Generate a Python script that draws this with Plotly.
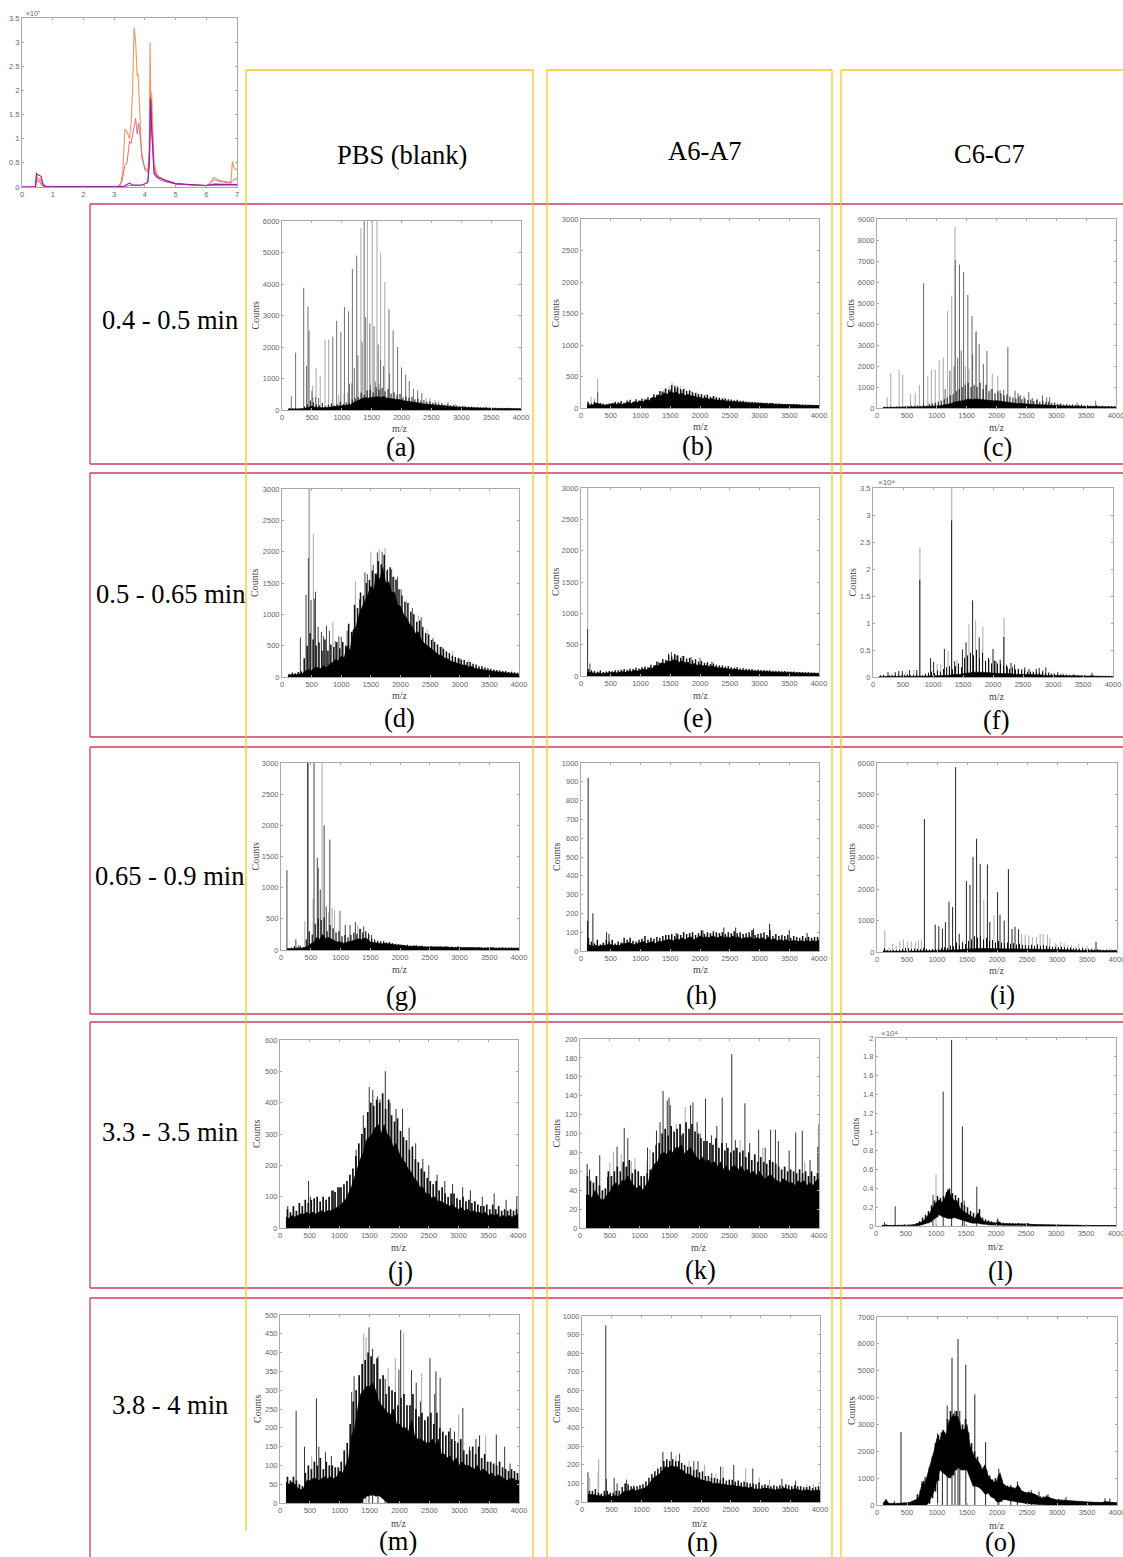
import plotly.graph_objects as go

W, H = 1123, 1557

# ---------- data ----------
MZ_GRID = [100,150,200,250,300,350,400,450,500,550,
           600,650,700,750,800,850,900,950,1000,1050,
           1100,1150,1200,1250,1300,1350,1400,1450,1500,1550,
           1600,1650,1700,1750,1800,1850,1900,1950,2000,2050,
           2100,2150,2200,2250,2300,2350,2400,2450,2500,2550,
           2600,2650,2700,2750,2800,2850,2900,2950,3000,3050,
           3100,3150,3200,3250,3300,3350,3400,3450,3500,3550,
           3600,3650,3700,3750,3800,3850,3900,3950,4000]
FUZZ_GRID = [125,175,225,275,325,375,425,475,525,575,
             625,675,725,775,825,875,925,975,1025,1075,
             1125,1175,1225,1275,1325,1375,1425,1475,1525,1575,
             1625,1675,1725,1775,1825,1875,1925,1975,2025,2075,
             2125,2175,2225,2275,2325,2375,2425,2475,2525,2575,
             2625,2675,2725,2775,2825,2875,2925,2975,3025,3075,
             3125,3175,3225,3275,3325,3375,3425,3475,3525,3575,
             3625,3675,3725,3775,3825,3875,3925,3975]

a_core = [30,30,35,30,40,40,60,90,120,90, 80,70,75,80,90,90,100,110,120,130,
          140,170,240,290,330,370,390,380,400,410, 420,400,430,380,370,350,350,320,320,290,
          280,270,240,230,220,200,190,180,170,150, 140,130,130,110,110,100,100,90,85,80,
          80,75,70,65,65,60,60,60,55,50, 50,50,45,45,45,40,45,40,40]
a_fuzz = [60,50,70,40,60,120,180,300,240,180, 150,220,130,170,210,150,180,260,190,240,
          230,330,380,420,550,480,620,640,560,720, 640,700,590,660,520,560,480,510,400,430,
          390,420,340,360,300,310,260,280,230,240, 200,220,170,190,150,160,140,130,120,115,
          105,110,90,95,85,80,85,75,70,72, 65,70,60,58,62,55,52,50]
a_dark = {155:440,228:1820,363:3880,410:1400,435:3280,500:600,515:400,850:2330,915:2830,985:2480,1045:3270,1115:3130,
          1170:850,1178:4480,1250:4900,1375:6000,1400:2940,1470:2750,1540:2660,1610:2080,1340:2170,1270:1740,1210:1340,
          1130:820,1650:1600,1700:1400,1790:3200,1800:1150,1860:2530,1935:2000,2000:1350,2070:1120,2130:920,
          1480:800,1560:900,1620:830,2200:680,2270:620,2340:540,560:420,610:380}
a_pale = {460:2530,445:2500,570:1340,640:1080,510:760,720:2240,780:2240,1320:5780,1430:6000,1510:6000,1590:6000,
          1650:5000,1720:4060,1100:550,1040:520,950:480,2410:400,2480:380,2560:320,2620:300,2780:260,2900:210,3050:160,3400:120,3800:90}

b_core = [40,40,50,80,60,50,45,50,55,70, 60,70,60,80,90,70,100,90,110,100,
          130,120,170,160,210,190,240,220,260,240, 250,220,230,200,220,190,190,170,170,150,
          160,140,150,130,130,120,120,110,110,100, 100,95,95,85,85,80,80,75,75,70,
          70,65,70,60,60,55,55,55,50,50, 50,50,45,45,45,40,40,40,40]
b_fuzz = [90,70,100,60,80,70,60,70,80,100, 90,110,85,120,130,100,140,120,150,140,
          170,160,220,210,270,260,310,290,360,340, 330,300,300,270,280,250,240,220,220,200,
          210,180,190,170,165,150,150,140,135,125, 130,115,115,105,100,100,95,92,88,85,
          82,80,78,72,70,68,65,62,60,60, 60,55,55,52,50,50,48,48]
b_dark = {110:100,280:250,1350:260,1500:300,1600:310,1700:280}
b_pale = {280:460,230:150,170:180,1400:300,1480:350,1530:400,1580:370,1620:360,1670:340,1730:320,1850:280,1950:260,2100:220,2250:190,2400:170}

c_core = [25,25,30,30,30,30,30,30,40,40, 40,40,50,60,70,70,80,90,100,110,
          130,150,190,220,280,300,340,360,400,420, 400,430,420,400,380,370,360,340,350,330,
          300,290,270,250,220,210,220,200,190,180, 170,170,160,150,150,140,130,120,120,110,
          110,100,100,90,85,90,80,80,70,70, 70,80,70,60,60,60,60,55,50]
c_fuzz = [60,50,70,50,70,60,80,90,100,110, 110,120,100,150,110,200,220,250,300,350,
          420,500,600,650,800,900,1000,1100,1200,1000, 1100,1000,1200,900,1100,800,900,700,800,700,
          600,650,550,500,450,550,420,450,380,400, 330,380,300,340,270,300,240,260,200,220,
          170,190,160,170,150,140,160,120,130,120, 110,130,100,110,90,100,90,85]
c_dark = {780:5950,1310:7050,1380:6830,1450:6480,1520:5380,1590:4380,1660:3640,1710:3050,1840:2720,2190:2900,
          1350:2400,1410:2730,1290:2000,1220:1780,1140:900,1600:2570,1780:2100,2060:850,2120:870,2310:820,
          2360:700,2400:600,2460:550,2540:760,2600:480,2680:450,2770:600,2840:500,2890:520,3350:250,3660:350}
c_pale = {1305:8620,1250:5350,1180:4620,1110:2400,1040:2260,975:1830,910:1820,850:1520,710:1100,640:730,560:680,
          430:1580,370:1820,230:1660,170:500,1480:2000,1540:1870,1650:3600,1930:1620,2020:1530,1900:900,3050:180}

d_core = [30,30,40,40,50,60,100,120,100,150, 150,130,180,150,200,230,280,260,330,310,
          500,420,750,800,1000,1100,1200,1320,1450,1400, 1650,1550,1750,1500,1520,1350,1350,1150,1130,1000,
          950,850,800,700,720,600,540,500,460,420, 380,350,340,300,290,250,240,220,210,190,
          190,160,170,140,130,125,115,105,100,90, 85,80,70,70,60,60,55,50,45]
d_fuzz = [50,70,60,80,90,300,500,700,600,500, 550,420,600,420,520,480,560,460,560,500,
          850,720,1150,1100,1350,1300,1500,1550,1700,1650, 1850,1800,1950,1700,1750,1600,1550,1400,1300,1200,
          1180,1040,1000,880,900,800,700,680,590,560, 520,480,450,410,380,340,320,300,280,270,
          240,240,210,200,170,170,150,140,130,120, 110,105,95,95,80,85,75,70]
d_dark = {310:630,405:1310,445:1900,490:1230,545:1250,565:1360,610:800,665:720,700:650,750:820,800:740,900:570,960:650,
          1000:640,1100:740,1310:1240,1400:1670,1440:1640,1540:1790,1610:1990,1690:2000,1780:1720,1850:1720,
          1950:1600,2010:1400,2200:1100,2350:950,2550:620,2700:480,3000:300}
d_pale = {455:3000,465:3000,530:2280,860:880,1240:1530,1500:2000,1640:2040,1740:2060,1900:1600,2100:1220,2300:980,2450:760,2880:410,3150:280}

e_core = [60,60,50,40,50,40,45,50,45,60, 50,60,70,60,80,70,90,80,100,110,
          100,130,120,170,160,210,200,240,230,260, 250,220,240,210,220,180,200,170,180,160,
          170,150,160,140,130,130,120,120,110,105, 110,95,95,90,85,85,80,80,75,75,
          70,70,65,65,60,60,60,55,55,55, 50,50,50,45,45,45,40,40,40]
e_fuzz = [110,90,80,70,90,65,70,80,75,90, 90,100,110,100,120,110,130,120,140,150,
          140,180,170,230,210,270,260,330,310,350, 330,290,320,280,290,250,270,230,240,210,
          220,190,200,180,170,170,150,160,140,130, 140,120,125,115,110,110,100,105,95,95,
          90,90,85,85,80,75,80,70,70,72, 65,65,65,60,60,55,55,52]
e_dark = {110:750,150:200,1300:220,1470:360,1520:380,1600:330,1700:320,1850:300,2000:290,2200:230}
e_pale = {112:3000}

f_core = [.005,.005,.01,.01,.01,.01,.01,.01,.01,.01, .01,.01,.01,.01,.01,.01,.015,.02,.02,.02,
          .025,.03,.03,.03,.04,.04,.04,.05,.06,.07, .08,.08,.09,.09,.09,.08,.08,.08,.07,.07,
          .07,.06,.06,.06,.06,.05,.05,.05,.05,.04, .04,.04,.04,.04,.04,.03,.03,.03,.03,.03,
          .03,.02,.02,.02,.02,.02,.02,.02,.02,.015, .02,.02,.015,.015,.01,.01,.01,.01,.01]
f_fuzz = [.03,.04,.02,.03,.03,.04,.05,.03,.04,.05, .03,.04,.05,.03,.03,.06,.08,.1,.07,.12,
          .1,.15,.18,.2,.14,.2,.25,.18,.35,.4, .45,.4,.5,.35,.45,.3,.35,.25,.3,.25,
          .25,.2,.22,.15,.18,.14,.15,.12,.13,.1, .1,.09,.1,.08,.09,.07,.08,.06,.06,.05,
          .05,.05,.04,.04,.03,.03,.03,.03,.03,.02, .03,.03,.02,.02,.02,.02,.02,.015]
f_dark = {250:.09,370:.09,430:.11,490:.11,610:.13,730:.13,780:1.8,960:.35,1010:.28,1190:.52,1310:2.9,1360:.29,1490:.51,
          1550:.64,1660:1.42,1770:.73,2000:.52,2050:.3,2120:.32,2180:.74,2240:.19,2300:.26,2360:.23,2420:.15,2480:.15,
          2530:.18,2600:.15,2720:.15,2770:.17,2830:.12,2880:.18,3080:.09,3350:.05,3650:.08}
f_pale = {120:.03,310:.06,550:.1,680:.13,782:2.4,1070:.24,1130:.24,1250:.49,1312:3.5,1400:.32,1600:.97,1710:1.05,1830:.93,
          1880:.26,1940:.32,2185:1.1,2660:.11,2950:.1,3000:.08,3150:.07,3220:.06,3420:.045,3550:.04,3800:.02}

g_core = [20,20,25,30,25,30,40,60,100,120, 200,170,250,180,200,170,150,130,130,110,
          120,130,150,160,180,170,190,180,130,120, 110,100,100,110,100,90,90,80,80,70,
          70,60,60,65,55,60,50,50,50,55, 45,50,45,45,50,40,40,45,40,35,
          40,40,35,35,40,35,30,35,30,35, 30,30,35,30,30,35,30,30,30]
g_fuzz = [30,40,60,45,60,50,170,300,250,420, 500,480,520,300,400,350,280,300,220,240,
          200,240,280,260,340,280,300,250,190,170, 150,140,140,120,130,110,100,95,85,80,
          85,70,70,75,60,70,60,55,65,60, 55,60,50,60,50,55,50,60,45,45,
          50,50,45,40,50,40,40,45,40,40, 35,40,45,35,35,40,35,35]
g_dark = {100:1280,250:170,445:3000,455:3000,555:3000,610:1480,625:1320,660:970,725:2000,760:700,820:1770,
          1080:400,1160:400,1250:450,1340:340,1390:380,1470:270,1520:240,300:80}
g_pale = {400:460,540:820,690:3000,800:600,860:670,900:640,980:630,1000:630,1290:400}

h_core = [40,30,25,30,25,30,30,35,35,30, 30,30,40,40,45,40,35,40,45,50,
          40,45,50,40,50,50,55,60,60,55, 65,60,70,60,70,75,60,70,80,70,
          75,70,80,75,70,80,70,75,70,80, 70,75,65,70,70,75,60,70,65,70,
          60,75,60,65,55,60,55,60,50,55, 55,50,55,50,55,50,55,50,60]
h_fuzz = [70,50,40,60,35,45,60,50,60,40, 50,45,70,60,70,55,50,60,65,80,
          60,70,65,75,70,80,85,85,90,80, 90,85,100,90,95,100,85,95,110,90,
          100,95,105,100,95,100,90,100,95,105, 95,100,90,95,100,110,85,90,95,100,
          85,110,80,90,80,85,80,85,70,80, 75,70,80,70,75,70,75,75]
h_dark = {110:160,120:920,200:200,430:100,470:90,1600:95,2050:110,2400:125,2600:125,2900:120,3170:145,3500:110,3800:95}
h_pale = {}

i_core = [40,20,20,20,20,25,25,30,30,30, 30,30,30,30,40,40,40,40,50,50,
          50,50,60,60,70,70,80,80,90,90, 100,110,110,110,110,110,100,110,110,100,
          110,110,100,100,100,90,100,90,90,90, 90,90,90,80,90,90,80,80,70,70,
          70,60,70,60,60,50,60,50,50,50, 50,50,40,40,40,40,40,40,40]
i_fuzz = [120,60,60,70,60,70,100,130,120,100, 110,100,90,130,100,80,100,90,110,130,
          150,130,200,180,300,220,300,250,350,400, 500,450,500,400,450,350,380,300,350,300,
          280,300,260,280,240,260,230,220,210,230, 200,240,190,220,200,180,170,160,150,170,
          150,130,140,120,110,110,130,100,100,90, 80,90,70,70,60,70,60,60]
i_dark = {790:4220,970:870,1030:820,1090:740,1140:950,1200:1600,1260:1430,1310:5870,1370:580,1490:2250,1550:2130,1600:3020,
          1660:3600,1720:2800,1840:2780,1880:950,2010:1900,2050:1180,2120:1000,2190:2630,2250:730,2300:800,2360:720,3650:320}
i_pale = {130:700,200:150,260:260,320:200,380:340,440:400,510:330,570:340,640:320,690:370,740:400,1430:370,1780:1650,1950:1160,
          2410:560,2470:530,2530:520,2590:480,2660:480,2720:570,2770:570,2840:550,2880:440,2970:280,3000:240,3060:310,3120:280,
          3180:230,3240:220,3310:180,3360:270,3430:170,3500:200,3580:130,3710:100,3830:110,3900:110,3960:110}

j_core = [35,30,40,35,40,45,45,50,45,50, 45,50,55,50,55,55,60,65,70,80,
          90,110,130,160,190,220,240,280,290,300, 320,330,300,330,300,290,260,270,240,220,
          210,190,180,160,150,130,130,110,110,95, 100,85,85,80,75,70,75,65,60,65,
          55,60,50,55,50,50,45,50,40,45, 40,45,35,40,35,40,35,40,45]
j_fuzz = [60,50,70,55,80,70,90,80,90,95, 100,85,100,90,100,120,115,130,130,140,
          150,170,190,230,270,300,320,370,400,390, 410,400,430,380,410,360,340,350,310,290,
          280,250,260,220,210,190,180,160,150,140, 150,120,130,110,100,110,110,95,90,100,
          85,90,80,85,75,70,70,75,60,75, 60,70,55,60,55,60,55,60]
j_dark = {130:70,480:150,510:100,900:120,1000:130,1280:250,1400:360,1500:450,1560:440,1640:420,1680:410,1770:500,1850:400,
          1950:380,2060:380,2170:320,2280:270,2400:220,2500:200,2640:170,2770:150,2900:140,3070:130,3200:120,3400:100,3600:110,3800:90,3980:100}
j_pale = {}

k_core = [35,35,32,40,35,30,30,35,38,45, 48,45,50,50,55,50,45,42,45,40,
          45,50,62,68,70,78,80,78,82,80, 85,85,88,78,82,85,80,75,72,75,
          70,72,68,70,65,70,62,66,60,65, 66,62,65,60,62,58,60,56,60,55,
          52,55,56,52,50,48,52,50,48,48, 45,50,48,50,45,48,45,50,52]
k_fuzz = [55,50,48,55,45,40,42,60,55,60, 65,60,70,65,72,58,62,60,55,55,
          58,62,80,88,90,100,105,98,108,102, 105,110,100,112,105,110,102,100,95,92,
          92,90,88,95,85,90,82,85,80,82, 85,80,82,75,80,72,78,70,75,70,
          68,72,70,68,65,62,65,60,62,60, 58,62,58,60,55,60,55,58]
k_dark = {120:68,160:62,330:77,460:54,620:86,740:106,800:95,1130:85,1280:103,1340:112,1390:145,1460:135,1490:138,1510:130,
          1700:98,1850:130,1890:133,1960:112,2010:100,2100:137,2200:98,2290:108,2380:138,2450:90,2540:184,2600:93,2760:132,
          2840:90,2990:104,3100:85,3190:104,3270:104,3320:92,3500:82,3610:101,3720:103,3850:72,3980:86,4000:110}
k_pale = {500:69,560:81,690:78,860:71,920:74,1120:71,1170:83,1610:110,1760:128,2680:93,3060:85,3760:70}

l_core = [.005,.01,.005,.005,.005,.005,.005,.01,.01,.01, .01,.015,.025,.04,.06,.1,.14,.2,.25,.28,
          .25,.3,.39,.32,.27,.27,.19,.16,.14,.12, .1,.08,.14,.08,.05,.045,.04,.03,.03,.045,
          .025,.025,.025,.02,.02,.02,.02,.02,.02,.02, .015,.015,.015,.01,.01,.01,.01,.01,.01,.01,
          .01,.01,.008,.008,.008,.008,.008,.006,.006,.006, .006,.006,.005,.005,.005,.005,.005,.005,.005]
l_low  = [0,0,0,0,0,0,0,0,0,0, 0,0,.005,.01,.02,.03,.04,.07,.09,.12,
          .1,.09,.08,.08,.09,.08,.07,.06,.05,.04, .03,.03,.03,.02,.02,.015,.01,.01,.01,.01,
          .005,.005,.005,.005,.005,.005,.005,.005,.005,.005, 0,0,0,0,0,0,0,0,0,0,
          0,0,0,0,0,0,0,0,0,0, 0,0,0,0,0,0,0,0,0]
l_fuzz = [.01,.015,.01,.01,.008,.01,.01,.015,.012,.015, .02,.03,.05,.09,.12,.16,.22,.27,.32,.3,
          .32,.36,.4,.35,.33,.3,.25,.22,.2,.16, .14,.12,.18,.09,.07,.06,.05,.04,.06,.035,
          .035,.03,.03,.03,.025,.03,.025,.025,.03,.022, .02,.018,.016,.015,.014,.014,.012,.012,.012,.012,
          .01,.012,.01,.01,.01,.01,.008,.008,.008,.008, .008,.008,.006,.006,.006,.006,.006,.006]
l_dark = {140:.04,320:.21,950:.33,1120:1.43,1260:1.98,1440:1.06,1470:.27,1680:.42,2030:.08,2530:.03}
l_pale = {1000:.55}

m_core = [55,50,55,50,40,35,40,60,60,65, 65,60,65,70,65,70,65,70,85,80,
          100,120,180,200,250,290,300,310,310,320, 300,270,260,250,240,235,250,210,210,200,
          200,190,220,180,170,170,165,160,160,170, 155,170,130,130,120,125,110,120,100,110,
          100,100,95,90,100,85,90,85,75,80, 70,75,70,65,60,65,65,60,60]
m_low  = [0,0,0,0,0,0,0,0,0,0, 0,0,0,0,0,0,0,0,0,0,
          0,0,0,0,0,0,12,18,20,22, 18,20,14,8,0,0,0,0,0,0,
          0,0,0,0,0,0,0,0,0,0, 0,0,0,0,0,0,0,0,0,0,
          0,0,0,0,0,0,0,0,0,0, 0,0,0,0,0,0,0,0,0]
m_fuzz = [70,60,70,60,50,45,80,100,90,110, 100,120,90,110,100,100,95,95,110,140,
          160,210,270,300,340,370,380,400,390,370, 385,330,340,290,310,300,295,260,280,290,
          260,260,290,250,230,240,220,230,240,210, 240,200,190,180,190,170,165,160,170,140,
          130,140,150,130,150,120,130,110,110,105, 100,110,95,90,85,90,85,80]
m_dark = {270:245,410:150,610:278,650:150,760:135,860:125,1180:195,1200:295,1240:337,1490:467,1550:410,1640:390,1760:330,
          1990:355,2020:460,2200:353,2280:320,2350:270,2510:385,2590:290,2610:350,2680:333,2850:200,2920:190,3060:253,
          3170:150,3280:170,3340:180,3620:182,3760:150,3850:105}
m_pale = {530:125,1400:450,1440:440,1810:360,1930:385,2070:453,2370:345,2990:235,3440:180}

n_core = [40,40,40,35,35,30,35,40,30,35, 30,40,55,60,60,70,60,65,70,75,
          85,110,130,140,150,170,190,185,195,190, 190,175,170,150,150,140,130,130,120,115,
          110,110,100,100,100,95,95,90,90,90, 85,85,80,80,75,80,70,70,70,75,
          75,70,70,65,70,70,75,70,65,70, 70,65,60,65,65,60,60,65,60]
n_fuzz = [60,60,70,50,45,60,60,50,50,60, 60,80,100,95,85,80,85,90,95,110,
          130,150,165,180,190,220,230,220,230,220, 220,210,200,190,190,170,175,160,165,140,
          140,130,130,125,120,130,115,120,120,110, 115,105,110,105,100,100,95,105,90,95,
          90,85,90,85,90,85,95,90,85,90, 85,85,80,80,85,75,80,85]
n_dark = {100:160,400:950,410:125,540:130,590:100,730:100,750:120,870:90,1360:270,1420:220,1500:270,1640:260,1880:220,1950:220,
          2180:155,2330:190,2550:200,2870:180,3360:125,3590:115}
n_pale = {130:130,280:230,270:160,1580:250,1800:220,2060:200,2250:150,2370:190,2750:180,2980:130,3150:120,3780:95,3890:95}

o_core = [50,200,60,50,60,60,80,80,80,100, 150,200,300,800,800,1200,1500,2000,2500,2400,
          2800,2600,3100,3300,3300,3300,2800,2800,3000,2200, 1900,1700,1600,1300,1500,1100,950,850,900,1200,
          800,700,650,650,600,750,550,480,450,450, 420,380,300,250,280,300,250,220,180,180,
          170,180,150,150,140,130,130,120,110,110, 100,100,90,90,130,110,90,90,80]
o_low  = [0,0,0,0,0,0,0,0,0,0, 0,0,0,0,0,50,250,500,900,1300,
          1200,1100,1000,1100,1300,1400,1300,1300,1300,1000, 700,700,650,550,400,450,300,250,100,120,
          200,200,160,150,120,100,90,60,50,40, 30,20,20,10,10,0,0,0,0,0,
          0,0,0,0,0,0,0,0,0,0, 0,0,0,0,0,0,0,0,0]
o_fuzz = [120,80,60,70,60,70,60,60,70,120, 180,400,550,900,1000,1400,1800,2300,2600,2700,
          2700,3200,3500,3400,3500,3100,3000,3200,2700,2300, 2000,1800,1500,1400,1300,1100,950,1000,1100,950,
          750,720,700,650,650,650,520,480,500,460, 400,350,320,320,350,280,240,220,220,200,
          200,170,170,160,150,150,140,130,120,120, 110,110,100,100,100,90,90,90]
o_dark = {400:2720,1010:2670,1090:2700,1170:3700,1250:5480,1300:3500,1350:6180,1380:3500,1480:5220,1630:4120,1810:2340,2030:1350,
          2230:750,2340:880,750:880,800:1050,150:220,290:150,2570:550,2700:500,2850:400,3150:300,3800:250,3880:240}
o_pale = {}

chrom_orange_t = [0,.44,.47,.5,.6,.68,.8,3.1,3.2,3.28,3.35,3.42,3.5,3.55,3.6,3.65,3.7,3.75,3.78,3.85,3.9,4.0,4.1,4.14,4.17,4.2,4.22,4.3,4.4,4.7,5,5.5,6,6.1,6.25,6.4,6.6,6.8,6.85,6.9,7]
chrom_orange   = [0,0,.32,.18,.16,.05,.01,.01,.03,.3,1.2,1.15,1.0,1.3,2.0,3.3,3.0,2.3,2.35,1.3,.6,.4,.35,.8,3.0,1.5,1.95,.5,.25,.12,.07,.04,.03,.07,.2,.15,.1,.08,.53,.4,.35]
chrom_red_t = [0,.44,.47,.52,.6,.68,.8,3.1,3.25,3.35,3.42,3.5,3.55,3.6,3.7,3.75,3.8,3.9,4.0,4.1,4.15,4.2,4.23,4.3,4.4,4.7,5,5.5,6,6.1,6.25,6.4,6.8,6.9,7]
chrom_red   = [0,0,.2,.15,.13,.03,.01,.01,.1,.45,.5,.95,.9,1.1,1.42,1.1,1.32,.7,.35,.3,.6,1.8,1.2,.4,.22,.11,.07,.04,.03,.06,.15,.12,.1,.15,.18]
chrom_purple_t = [0,.44,.47,.55,.62,.7,.8,3.3,3.5,3.6,3.9,4.05,4.1,4.15,4.18,4.22,4.3,4.4,5,6,6.25,7]
chrom_purple   = [0,0,.27,.25,.22,.03,.01,.01,.08,.04,.04,.08,.12,.5,1.85,1.2,.3,.2,.07,.03,.06,.05]
chrom_magenta_t = [0,.44,.47,.55,.65,.8,3.3,3.5,3.9,4.1,4.16,4.19,4.23,4.3,4.5,5,6,7]
chrom_magenta   = [0,0,.12,.12,.03,0,0,.03,.03,.1,.9,1.8,1.15,.25,.14,.06,.03,.04]

column_titles = ["PBS (blank)", "A6-A7", "C6-C7"]
row_labels = ["0.4 - 0.5 min", "0.5 - 0.65 min", "0.65 - 0.9 min", "3.3 - 3.5 min", "3.8 - 4 min"]
panel_letters = ["(a)","(b)","(c)","(d)","(e)","(f)","(g)","(h)","(i)","(j)","(k)","(l)","(m)","(n)","(o)"]

# ---------- layout constants (page pixels) ----------
# left, right, top, bottom, y max, y step, exponent
GEOM = [
 (282,521,221,410,6000,1000,None),(581,819,219,408,3000,500,None),(877,1116,219,408,9000,1000,None),
 (282,519,489,677,3000,500,None),(581,819,488,676,3000,500,None),(873,1113,488,677,3.5,.5,4),
 (281,519,763,950,3000,500,None),(581,819,763,951,1000,100,None),(877,1117,763,952,6000,1000,None),
 (280,518,1040,1228,600,100,None),(580,819,1039,1228,200,20,None),(876,1116,1038,1226,2,.2,4),
 (280,519,1315,1503,500,50,None),(582,820,1316,1502,1000,100,None),(877,1117,1317,1505,7000,1000,None),
]
PANEL_DATA = [
 (a_core,None,a_fuzz,a_dark,a_pale),(b_core,None,b_fuzz,b_dark,b_pale),(c_core,None,c_fuzz,c_dark,c_pale),
 (d_core,None,d_fuzz,d_dark,d_pale),(e_core,None,e_fuzz,e_dark,e_pale),(f_core,None,f_fuzz,f_dark,f_pale),
 (g_core,None,g_fuzz,g_dark,g_pale),(h_core,None,h_fuzz,h_dark,h_pale),(i_core,None,i_fuzz,i_dark,i_pale),
 (j_core,None,j_fuzz,j_dark,j_pale),(k_core,None,k_fuzz,k_dark,k_pale),(l_core,l_low,l_fuzz,l_dark,l_pale),
 (m_core,m_low,m_fuzz,m_dark,m_pale),(n_core,None,n_fuzz,n_dark,n_pale),(o_core,o_low,o_fuzz,o_dark,o_pale),
]
DARK_COLOR = ["#707070","#555555","#666666","#444444","#444444","#222222","#444444","#222222","#222222",
              "#333333","#333333","#333333","#333333","#333333","#222222"]
FUZZ_WIDTH = [1,1.4,1,1.5,1.4,1,1.2,1.5,1,1.7,1.7,1.5,1.7,1.5,1.7]
LETTER_POS = [(400,447),(697,446),(997,447),(399,718),(697,718),(996,720),(401,996),(701,995),(1002,995),
              (400,1271),(700,1270),(1001,1271),(398,1541),(702,1542),(1000,1542)]
MZ_POS = [(400,428),(701,426),(997,427),(400,695),(701,695),(997,696),(400,969),(701,969),(997,970),
          (399,1247),(699,1247),(996,1246),(399,1523),(700,1523),(997,1525)]
COUNTS_X = [255,555,850,255,555,852,255,556,851,256,556,855,257,556,851]
COL_POS = [(402,155),(705,151),(989,154)]
ROW_POS = [(170,320),(170,594),(169,876),(170,1132),(170,1405)]

SERIF = "Liberation Serif"
SANS = "Liberation Sans"
TICK = "#666666"
FRAME = "#a9a9a9"
RED = "#cc3d5c"
YELLOW = "#ffc61a"
SUPER = {4: "⁴", 7: "⁷"}

def px(x): return x / W
def py(y): return 1 - y / H

fig = go.Figure()
annots = []
shapes = []

def note(x, y, text, size, color="black", family=SERIF, angle=0):
    annots.append(dict(x=px(x), y=py(y), xref="paper", yref="paper", text=text, showarrow=False,
                       xanchor="center", yanchor="middle", textangle=angle,
                       font=dict(size=size, color=color, family=family)))

def stems(xvals, tops, bases=None):
    xs, ys = [], []
    for i, (m, h) in enumerate(zip(xvals, tops)):
        xs += [m, m, None]
        ys += [bases[i] if bases else 0, h, None]
    return xs, ys

def axes(idx, geom, xticks, yticks, xrange, yrange, ticktext=None):
    l, r, t, b = geom
    suffix = "" if idx == 1 else str(idx)
    common = dict(showgrid=False, zeroline=False, showline=True, linecolor=FRAME, linewidth=1, mirror="ticks",
                  ticks="inside", ticklen=2, tickcolor=FRAME, tickwidth=1, ticklabeloverflow="allow",
                  tickfont=dict(size=7.5, color=TICK, family=SANS))
    fig.layout["xaxis" + suffix] = dict(domain=[px(l), px(r)], anchor="y" + suffix, range=xrange,
                                        tickmode="array", tickvals=xticks, ticktext=[str(v) for v in xticks], **common)
    fig.layout["yaxis" + suffix] = dict(domain=[py(b), py(t)], anchor="x" + suffix, range=yrange,
                                        tickmode="array", tickvals=yticks, ticktext=ticktext, **common)

MZ_TICKS = [0,500,1000,1500,2000,2500,3000,3500,4000]

def fmt(v):
    return f"{v:.1f}".rstrip("0").rstrip(".") if v else "0"

for n, (g, dat) in enumerate(zip(GEOM, PANEL_DATA)):
    idx = n + 2
    l, r, t, b, ymax, step, exp = g
    core, low, fuzz, dark, pale = dat
    assert len(core) == len(MZ_GRID), n
    assert len(fuzz) == len(FUZZ_GRID), n
    xa, ya = f"x{idx}", f"y{idx}"
    count = round(ymax / step)
    yticks = [round(k * step, 3) for k in range(count + 1)]
    axes(idx, (l, r, t, b), MZ_TICKS, yticks, [0, 4000], [0, ymax], [fmt(v) for v in yticks])
    if pale:
        xs, ys = stems(list(pale), list(pale.values()))
        fig.add_trace(go.Scatter(x=xs, y=ys, mode="lines", line=dict(color="#b0b0b0", width=1.1), xaxis=xa, yaxis=ya,
                                 showlegend=False, hoverinfo="skip"))
    if dark:
        xs, ys = stems(list(dark), list(dark.values()))
        fig.add_trace(go.Scatter(x=xs, y=ys, mode="lines", line=dict(color=DARK_COLOR[n], width=1), xaxis=xa, yaxis=ya,
                                 showlegend=False, hoverinfo="skip"))
    base = low if low is not None else [0] * len(core)
    xs, ys = stems(FUZZ_GRID, fuzz, base)
    fig.add_trace(go.Scatter(x=xs, y=ys, mode="lines", line=dict(color="#111111", width=FUZZ_WIDTH[n]), xaxis=xa, yaxis=ya,
                             showlegend=False, hoverinfo="skip"))
    fig.add_trace(go.Scatter(x=MZ_GRID, y=base, mode="lines", line=dict(color="black", width=0.4), xaxis=xa, yaxis=ya,
                             showlegend=False, hoverinfo="skip"))
    fig.add_trace(go.Scatter(x=MZ_GRID, y=core, mode="lines", fill="tonexty", fillcolor="black",
                             line=dict(color="black", width=0.6), xaxis=xa, yaxis=ya, showlegend=False, hoverinfo="skip"))
    if exp:
        note(l + 14, t - 5, "×10" + SUPER[exp], 8, TICK, SANS)
    note(LETTER_POS[n][0], LETTER_POS[n][1], panel_letters[n], 26.5)
    note(MZ_POS[n][0], MZ_POS[n][1], "m/z", 10, "#444444")
    note(COUNTS_X[n], (t + b) / 2, "Counts", 10, "#444444", angle=-90)

# chromatogram
chrom_geom = (22, 237, 18, 187)
cy = [0,.5,1,1.5,2,2.5,3,3.5]
axes(1, chrom_geom, [0,1,2,3,4,5,6,7], cy, [0, 7], [0, 3.5], [fmt(v) for v in cy])
for tt, yy, col, lw in [(chrom_orange_t, chrom_orange, "#f4955e", 1.1), (chrom_red_t, chrom_red, "#e06a84", 1.0),
                        (chrom_magenta_t, chrom_magenta, "#c84fb0", 0.9), (chrom_purple_t, chrom_purple, "#9a1fa0", 1.1)]:
    fig.add_trace(go.Scatter(x=tt, y=yy, mode="lines", line=dict(color=col, width=lw), xaxis="x", yaxis="y",
                             showlegend=False, hoverinfo="skip"))
note(33, 13, "×10" + SUPER[7], 7, TICK, SANS)

# text labels
for (x, y), s in zip(COL_POS, column_titles):
    note(x, y, s, 26.5)
for (x, y), s in zip(ROW_POS, row_labels):
    note(x, y, s, 26.5)

def seg(x0, y0, x1, y1, color):
    shapes.append(dict(type="line", xref="paper", yref="paper", x0=px(x0), y0=py(y0), x1=px(x1), y1=py(y1),
                       line=dict(color=color, width=1.3), layer="below"))

# red row frames (open on the right)
for top, bot in [(204,464),(473,737),(747,1014),(1022,1288)]:
    seg(90, top, W, top, RED); seg(90, bot, W, bot, RED); seg(90, top, 90, bot, RED)
seg(90, 1298, W, 1298, RED); seg(90, 1298, 90, H, RED)
# yellow column frames
seg(246, 70, 533, 70, YELLOW); seg(246, 70, 246, 1531, YELLOW); seg(533, 70, 533, H, YELLOW)
seg(547, 70, 832, 70, YELLOW); seg(547, 70, 547, H, YELLOW); seg(832, 70, 832, H, YELLOW)
seg(841, 70, W, 70, YELLOW); seg(841, 70, 841, H, YELLOW)

fig.update_layout(width=W, height=H, margin=dict(l=0, r=0, t=0, b=0, autoexpand=False), paper_bgcolor="white",
                  plot_bgcolor="rgba(0,0,0,0)", showlegend=False, annotations=annots, shapes=shapes, font=dict(family=SANS))
fig.write_html("out.html", config=dict(displayModeBar=False),
               post_script="document.body.style.margin='0';document.documentElement.style.overflow='hidden';")
